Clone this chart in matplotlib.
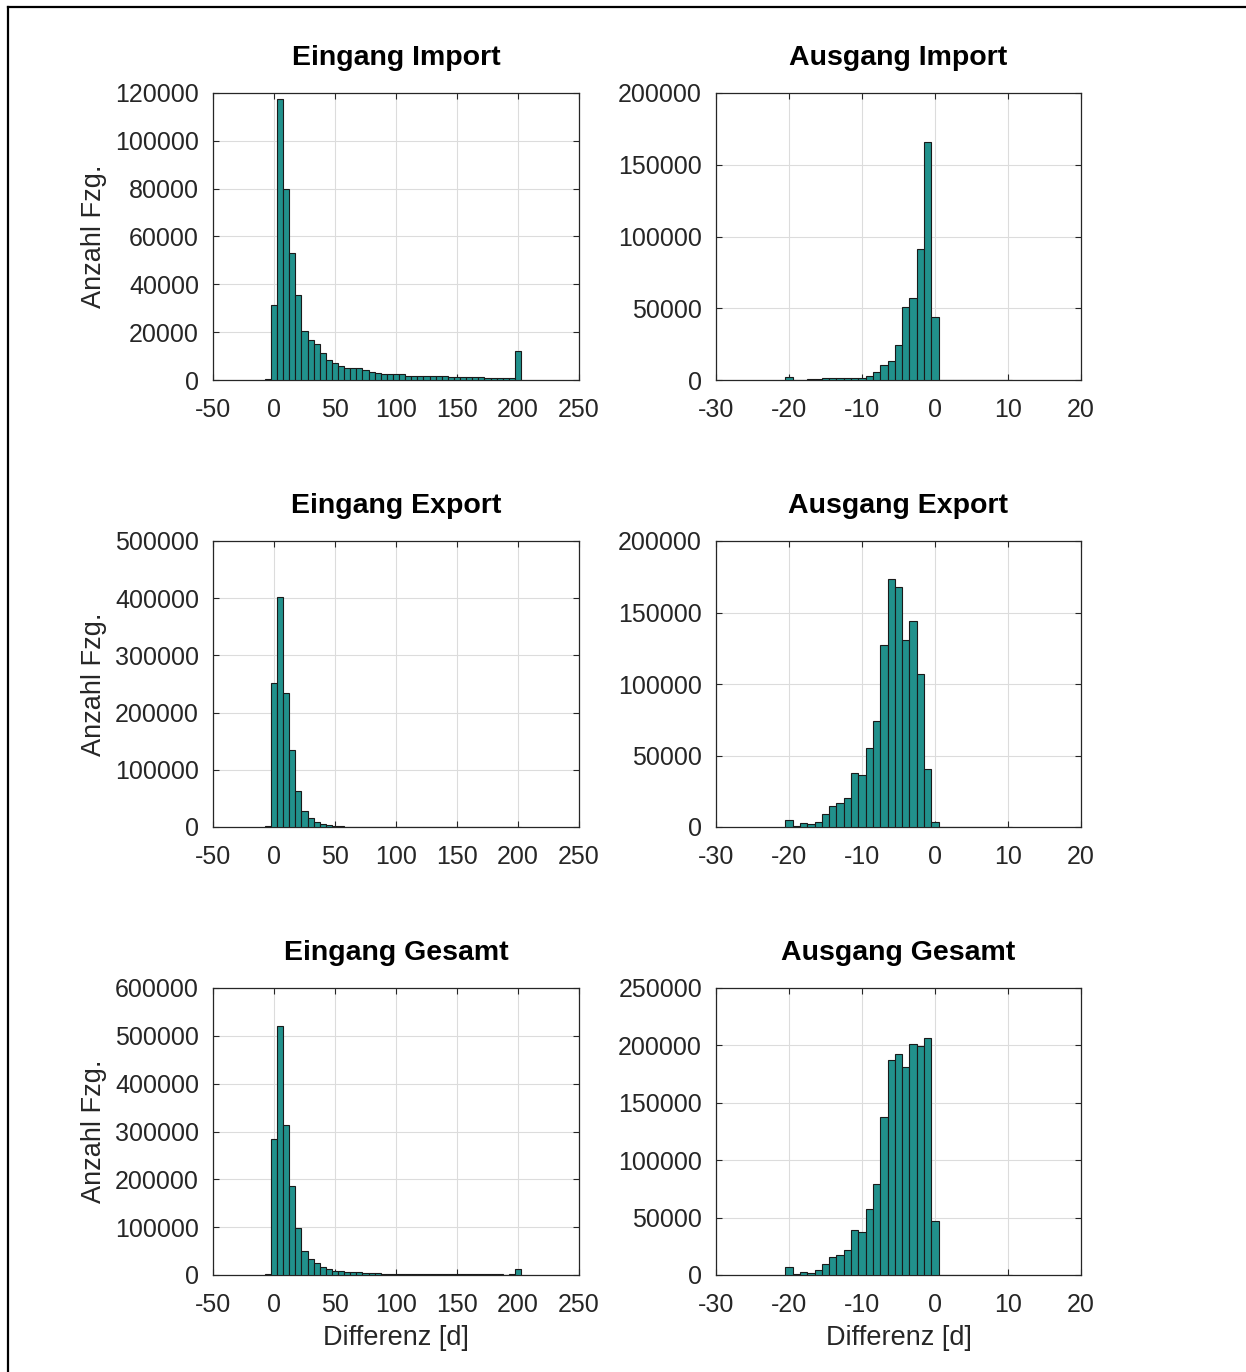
import matplotlib
matplotlib.use("Agg")
import matplotlib.pyplot as plt
from matplotlib.lines import Line2D
import numpy as np

plt.rcParams['font.family'] = ['Liberation Sans', 'DejaVu Sans']
plt.rcParams['axes.unicode_minus'] = False

# ---------------- data ----------------
# Eingang panels: bin centres -5 ... 200, width 5
eingang_centers = list(range(-5, 205, 5))
eingang_import = [400, 31500, 117300, 79900, 53100, 35400, 20400, 16900, 14900, 11200,
                  8400, 7100, 6000, 5200, 5200, 5000, 4200, 3500, 2900, 2700,
                  2500, 2500, 2500, 1800, 1700, 1500, 1500, 1500, 1500, 1700,
                  1400, 1300, 1300, 1100, 1100, 1100, 1000, 1000, 1000, 800,
                  1000, 12300]
eingang_export = [1000, 252000, 402000, 235000, 135000, 63000, 28700, 16400, 9400, 5300,
                  2900, 1800, 1200, 700, 600, 500, 400, 400, 300, 300,
                  300, 200, 200, 200, 150, 150, 150, 100, 100, 100,
                  100, 100, 100, 100, 100, 100, 100, 100, 100, 100,
                  100, 300]
eingang_gesamt = [1400, 284600, 520000, 314000, 187000, 98000, 49500, 34000, 24500, 16800,
                  11600, 9400, 7500, 5900, 5700, 5400, 4600, 3900, 3200, 3000,
                  2800, 2700, 2600, 1900, 1800, 1600, 1600, 1600, 1600, 1800,
                  1500, 1400, 1400, 1200, 1200, 1200, 1100, 1100, 1100, 900,
                  1100, 12500]

# Ausgang panels: bin centres -20 ... 10, width 1
ausgang_centers = list(range(-20, 11))
ausgang_import = [1900, 200, 300, 500, 800, 1200, 1400, 1400, 1600, 1200,
                  1400, 2800, 5600, 10300, 13500, 24700, 50600, 56900, 91200, 165900,
                  43600, 300, 200, 200, 300, 200, 300, 200, 100, 200, 300]
ausgang_export = [4700, 1000, 2600, 1900, 3700, 9300, 14500, 16600, 20300, 37900,
                  36400, 54900, 74300, 127100, 173600, 167500, 131100, 143900, 107200, 40400,
                  3500, 100, 100, 100, 100, 100, 100, 100, 100, 100, 100]
ausgang_gesamt = [6700, 600, 2600, 2000, 4000, 9900, 15700, 17800, 21900, 38800,
                  37600, 57400, 79300, 137900, 187500, 192700, 181600, 201200, 199100, 206100,
                  47200, 400, 300, 300, 400, 300, 400, 300, 200, 300, 400]

titles = ["Eingang Import", "Ausgang Import",
          "Eingang Export", "Ausgang Export",
          "Eingang Gesamt", "Ausgang Gesamt"]
ylims_left = [120000, 500000, 600000]
ylims_right = [200000, 200000, 250000]
ystep_left = [20000, 100000, 100000]
ystep_right = [50000, 50000, 50000]

# ---------------- layout ----------------
W, H = 1246, 1372
fig = plt.figure(figsize=(W / 100, H / 100), dpi=100)

col_x = [(213, 579), (716, 1081)]
row_y = [(93, 380), (541, 827), (988, 1275)]

bar_color = '#21918c'
edge_color = '#1a1a1a'
text_color = '#262626'

def make_ax(col, row):
    x0, x1 = col_x[col]
    y0, y1 = row_y[row]
    return fig.add_axes([x0 / W, 1 - y1 / H, (x1 - x0) / W, (y1 - y0) / H])

data_left = [eingang_import, eingang_export, eingang_gesamt]
data_right = [ausgang_import, ausgang_export, ausgang_gesamt]

for row in range(3):
    for col in range(2):
        ax = make_ax(col, row)
        if col == 0:
            ax.bar(eingang_centers, data_left[row], width=5, color=bar_color,
                   edgecolor=edge_color, linewidth=0.8, zorder=3)
            ax.set_xlim(-50, 250)
            ax.set_xticks(np.arange(-50, 251, 50))
            ax.set_ylim(0, ylims_left[row])
            ax.set_yticks(np.arange(0, ylims_left[row] + 1, ystep_left[row]))
            ax.set_ylabel("Anzahl Fzg.", fontsize=19.5, color=text_color, labelpad=6)
        else:
            ax.bar(ausgang_centers, data_right[row], width=1, color=bar_color,
                   edgecolor=edge_color, linewidth=0.8, zorder=3)
            ax.set_xlim(-30, 20)
            ax.set_xticks(np.arange(-30, 21, 10))
            ax.set_ylim(0, ylims_right[row])
            ax.set_yticks(np.arange(0, ylims_right[row] + 1, ystep_right[row]))
        ax.set_title(titles[row * 2 + col], fontsize=20.5, fontweight='bold', pad=20)
        if row == 2:
            ax.set_xlabel("Differenz [d]", fontsize=19.5, color=text_color, labelpad=6)
        ax.grid(True, color='#dcdcdc', linewidth=0.8, zorder=0)
        ax.set_axisbelow(True)
        ax.tick_params(direction='in', top=True, right=True, length=4, width=0.8,
                       labelsize=18, colors=text_color)
        ax.tick_params(axis='x', pad=13)
        ax.tick_params(axis='y', pad=10)
        for sp in ax.spines.values():
            sp.set_color(text_color)
            sp.set_linewidth(0.9)

# partial figure border (left and top)
fig.add_artist(Line2D([8 / W, 8 / W], [0, 1 - 7 / H], color='black', linewidth=1.6,
                      transform=fig.transFigure))
fig.add_artist(Line2D([8 / W, 1], [1 - 7 / H, 1 - 7 / H], color='black', linewidth=1.6,
                      transform=fig.transFigure))

fig.savefig("out.png", dpi=100, facecolor='white')
